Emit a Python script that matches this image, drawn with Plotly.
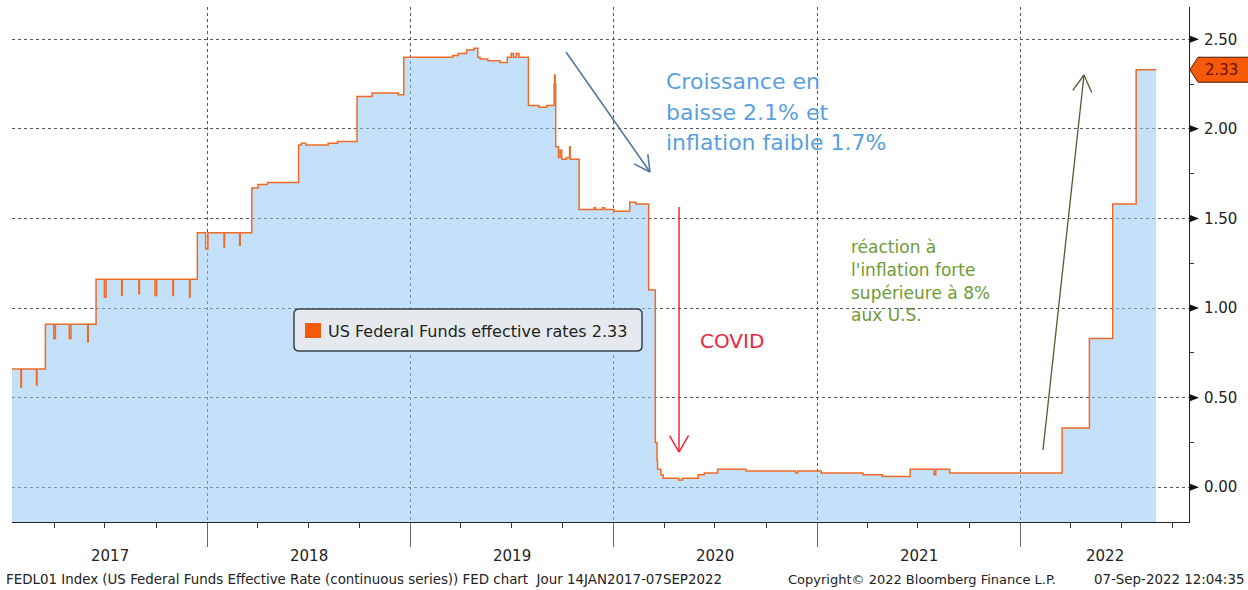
import math
import pandas as pd
import plotly.graph_objects as go

# ---------------- data ----------------
dates = [
    "2017-01-14", "2017-01-31", "2017-02-01", "2017-02-28", "2017-03-01",
    "2017-03-16", "2017-03-31", "2017-04-03", "2017-04-28", "2017-05-01",
    "2017-05-31", "2017-06-01", "2017-06-15", "2017-06-30", "2017-07-03",
    "2017-07-31", "2017-08-01", "2017-08-31", "2017-09-01", "2017-09-29",
    "2017-10-02", "2017-10-31", "2017-11-01", "2017-11-30", "2017-12-01",
    "2017-12-14", "2017-12-29", "2018-01-02", "2018-01-31", "2018-02-01",
    "2018-02-28", "2018-03-01", "2018-03-22", "2018-04-02", "2018-04-19",
    "2018-06-14", "2018-06-19", "2018-06-27", "2018-08-06", "2018-08-23",
    "2018-09-27", "2018-10-24", "2018-12-10", "2018-12-20",
    "2019-03-18", "2019-03-28", "2019-04-12", "2019-04-25", "2019-05-02",
    "2019-05-06", "2019-05-20", "2019-06-11", "2019-06-24", "2019-07-01",
    "2019-07-05", "2019-07-10", "2019-07-15", "2019-08-01", "2019-08-20",
    "2019-09-03", "2019-09-16", "2019-09-17", "2019-09-18", "2019-09-19",
    "2019-09-24", "2019-09-27", "2019-09-30", "2019-10-08", "2019-10-14",
    "2019-10-15", "2019-10-31", "2019-11-27", "2019-11-29", "2019-12-12",
    "2019-12-16",
    "2020-01-02", "2020-01-30", "2020-02-10", "2020-03-04", "2020-03-16",
    "2020-03-19", "2020-03-20", "2020-03-26", "2020-03-30", "2020-04-27",
    "2020-05-04", "2020-06-01", "2020-06-12", "2020-07-06", "2020-08-26",
    "2020-11-23", "2020-11-27",
    "2021-01-08", "2021-03-24", "2021-04-28", "2021-06-17", "2021-07-30",
    "2021-08-02", "2021-08-27",
    "2022-03-17", "2022-05-05", "2022-06-16", "2022-07-28", "2022-09-02",
]
rates = [
    0.66, 0.56, 0.66, 0.57, 0.66,
    0.91, 0.83, 0.91, 0.83, 0.91,
    0.81, 0.91, 1.16, 1.06, 1.16,
    1.07, 1.16, 1.08, 1.16, 1.07,
    1.16, 1.07, 1.16, 1.06, 1.16,
    1.42, 1.33, 1.42, 1.34, 1.42,
    1.35, 1.42, 1.67, 1.69, 1.70,
    1.91, 1.92, 1.91, 1.92, 1.93,
    2.18, 2.20, 2.19, 2.40,
    2.41, 2.42, 2.44, 2.45, 2.40,
    2.39, 2.38, 2.37, 2.40, 2.42,
    2.40, 2.42, 2.40, 2.13, 2.12,
    2.13, 2.25, 2.30, 2.25, 1.90,
    1.84, 1.88, 1.83, 1.84, 1.90,
    1.83, 1.55, 1.56, 1.55, 1.56,
    1.55,
    1.54, 1.59, 1.58, 1.10, 0.25,
    0.15, 0.10, 0.07, 0.05, 0.04,
    0.05, 0.07, 0.08, 0.10, 0.09,
    0.08, 0.09,
    0.08, 0.07, 0.06, 0.10, 0.07,
    0.10, 0.08,
    0.33, 0.83, 1.58, 2.33, 2.33,
]
series_name = "US Federal Funds effective rates"
last_value = rates[-1]

y_tick_vals = [0.0, 0.5, 1.0, 1.5, 2.0, 2.5]
y_tick_text = ["0.00", "0.50", "1.00", "1.50", "2.00", "2.50"]
y_minor_vals = [0.25, 0.75, 1.25, 1.75, 2.25]
year_labels = ["2017", "2018", "2019", "2020", "2021", "2022"]
year_bounds = ["2018-01-01", "2019-01-01", "2020-01-01", "2021-01-01", "2022-01-01"]
x_range = ["2017-01-15", "2022-10-31"]
y_range = [-0.194, 2.68]

footer_left = "FEDL01 Index (US Federal Funds Effective Rate (continuous series)) FED chart  Jour 14JAN2017-07SEP2022"
footer_mid = "Copyright© 2022 Bloomberg Finance L.P."
footer_right = "07-Sep-2022 12:04:35"

# ---------------- layout geometry ----------------
W, H = 1248, 590
L, R, T, B = 12, 59, 7, 68
PW, PH = W - L - R, H - T - B
FONT = "DejaVu Sans"


def px(X):
    return (X - L) / PW


def py(Y):
    return 1 - (Y - T) / PH


quarter_ticks = [d.strftime("%Y-%m-%d") for d in pd.date_range("2017-04-01", "2022-10-01", freq="QS")
                 if d.month != 1]

fig = go.Figure()
# baseline for the fill (bottom of the plotting area)
fig.add_trace(go.Scatter(x=[dates[0], dates[-1]], y=[y_range[0], y_range[0]], mode="lines",
                         line=dict(width=0), hoverinfo="skip", showlegend=False))
fig.add_trace(go.Scatter(x=dates, y=rates, mode="lines", name=series_name,
                         line=dict(color="#f06a28", width=1.5, shape="hv"),
                         fill="tonexty", fillcolor="rgba(150,200,245,0.55)", showlegend=False))

shapes = []
annotations = []

# triangles at major y ticks (right axis)
for v in y_tick_vals:
    shapes.append(dict(type="path", xref="paper", yref="y", xsizemode="pixel", ysizemode="pixel",
                       xanchor=1, yanchor=v, path="M1,-3.5 L10,0 L1,3.5 Z",
                       fillcolor="#111", line=dict(width=0), layer="above"))

# last value tag
shapes.append(dict(type="path", xref="paper", yref="y", xsizemode="pixel", ysizemode="pixel",
                   xanchor=1, yanchor=last_value, path="M1,0 L9,-12.5 L62,-12.5 L62,12.5 L9,12.5 Z",
                   fillcolor="#f45a0a", line=dict(color="#4a1a00", width=1), layer="above"))
annotations.append(dict(xref="paper", yref="y", x=px(1203), y=last_value, xanchor="left", yanchor="middle",
                        text=f"{last_value:.2f}", showarrow=False,
                        font=dict(family=FONT, size=15, color="#6a1000")))

# legend box (rounded)
bx0, bx1, by0, by1, r = 294, 642, 309, 351, 5
rx, ry = r / PW, r / PH
X0, X1, Y0, Y1 = px(bx0), px(bx1), py(by1), py(by0)
path = (f"M{X0+rx},{Y0} L{X1-rx},{Y0} Q{X1},{Y0} {X1},{Y0+ry} L{X1},{Y1-ry} Q{X1},{Y1} {X1-rx},{Y1} "
        f"L{X0+rx},{Y1} Q{X0},{Y1} {X0},{Y1-ry} L{X0},{Y0+ry} Q{X0},{Y0} {X0+rx},{Y0} Z")
shapes.append(dict(type="path", xref="paper", yref="paper", path=path,
                   fillcolor="#e6eaef", line=dict(color="#3a434c", width=1.5), layer="above"))
shapes.append(dict(type="rect", xref="paper", yref="paper", x0=px(305), x1=px(321), y0=py(338), y1=py(323),
                   fillcolor="#f45a0a", line=dict(width=0), layer="above"))
annotations.append(dict(xref="paper", yref="paper", x=px(326), y=py(331), xanchor="left", yanchor="middle",
                        text=f"{series_name} {last_value:.2f}", showarrow=False,
                        font=dict(family=FONT, size=16, color="#222")))


def arrow(x0, y0, x1, y1, color, width=1.5, head=18, ang=28):
    out = [dict(type="line", xref="paper", yref="paper", x0=px(x0), y0=py(y0), x1=px(x1), y1=py(y1),
                line=dict(color=color, width=width), layer="above")]
    dx, dy = x0 - x1, y0 - y1
    n = math.hypot(dx, dy)
    dx, dy = dx / n, dy / n
    for s in (-1, 1):
        a = math.radians(ang) * s
        ex = dx * math.cos(a) - dy * math.sin(a)
        ey = dx * math.sin(a) + dy * math.cos(a)
        out.append(dict(type="line", xref="paper", yref="paper", x0=px(x1), y0=py(y1),
                        x1=px(x1 + ex * head), y1=py(y1 + ey * head),
                        line=dict(color=color, width=width), layer="above"))
    return out


shapes += arrow(566, 52, 650, 172, "#4d74a0", 1.5, 18, 28)
shapes += arrow(679, 207, 679, 452, "#e8283a", 1.5, 19, 30)
shapes += arrow(1043, 450, 1084, 75, "#4f5e2e", 1.3, 19, 30)

# text annotations
for txt, yc in [("Croissance en", 82), ("baisse 2.1% et", 112), ("inflation faible 1.7%", 142)]:
    annotations.append(dict(xref="paper", yref="paper", x=px(664), y=py(yc), xanchor="left", yanchor="middle",
                            text=txt, showarrow=False, font=dict(family=FONT, size=22, color="#5a9fe0")))
annotations.append(dict(xref="paper", yref="paper", x=px(698), y=py(341), xanchor="left", yanchor="middle",
                        text="COVID", showarrow=False, font=dict(family=FONT, size=20, color="#e8283a")))
for txt, yc in [("réaction à", 247), ("l'inflation forte", 270), ("supérieure à 8%", 293), ("aux U.S.", 315)]:
    annotations.append(dict(xref="paper", yref="paper", x=px(849), y=py(yc), xanchor="left", yanchor="middle",
                            text=txt, showarrow=False, font=dict(family=FONT, size=17, color="#6f9a35")))

# year labels centred on the visible part of each year
rs, re_ = pd.Timestamp(x_range[0]), pd.Timestamp(x_range[1])
for yl in year_labels:
    a = max(pd.Timestamp(f"{yl}-01-01"), rs)
    b = min(pd.Timestamp(f"{int(yl)+1}-01-01"), re_)
    mid = a + (b - a) / 2
    annotations.append(dict(xref="x", yref="paper", x=mid.strftime("%Y-%m-%d %H:%M"), y=py(556),
                            xanchor="center", yanchor="middle", text=yl, showarrow=False,
                            font=dict(family=FONT, size=15, color="#222")))

# footer
annotations.append(dict(xref="paper", yref="paper", x=px(4), y=py(579), xanchor="left", yanchor="middle",
                        text=footer_left, showarrow=False, font=dict(family=FONT, size=13.4, color="#222")))
annotations.append(dict(xref="paper", yref="paper", x=px(786), y=py(579), xanchor="left", yanchor="middle",
                        text=footer_mid, showarrow=False, font=dict(family=FONT, size=13, color="#222")))
annotations.append(dict(xref="paper", yref="paper", x=px(1246), y=py(579), xanchor="right", yanchor="middle",
                        text=footer_right, showarrow=False, font=dict(family=FONT, size=13.4, color="#222")))

fig.update_layout(
    width=W, height=H, autosize=False,
    margin=dict(l=L, r=R, t=T, b=B, pad=0),
    paper_bgcolor="white", plot_bgcolor="white",
    showlegend=False,
    font=dict(family=FONT, size=15, color="#222"),
    shapes=shapes, annotations=annotations,
    xaxis=dict(type="date", range=x_range, tickvals=year_bounds, ticktext=[""] * len(year_bounds),
               ticks="outside", ticklen=24, tickcolor="#666", tickwidth=1,
               showgrid=True, gridcolor="#555", griddash="dot", gridwidth=1,
               showline=True, linecolor="#222", linewidth=1, zeroline=False,
               minor=dict(tickvals=quarter_ticks, ticks="outside", ticklen=5, tickcolor="#333", showgrid=False),
               fixedrange=True),
    yaxis=dict(side="right", range=y_range, tickvals=y_tick_vals, ticktext=y_tick_text,
               ticks="outside", ticklen=11, tickcolor="rgba(0,0,0,0)",
               showgrid=True, gridcolor="#555", griddash="dot", gridwidth=1,
               showline=True, linecolor="#222", linewidth=1, zeroline=False,
               tickfont=dict(family=FONT, size=15, color="#222"),
               minor=dict(tickvals=y_minor_vals, ticks="outside", ticklen=4, tickcolor="#333", showgrid=False),
               fixedrange=True),
)

fig.write_html("out.html", config={"displayModeBar": False},
               post_script="document.body.style.margin='0px';document.body.style.overflow='hidden';")
